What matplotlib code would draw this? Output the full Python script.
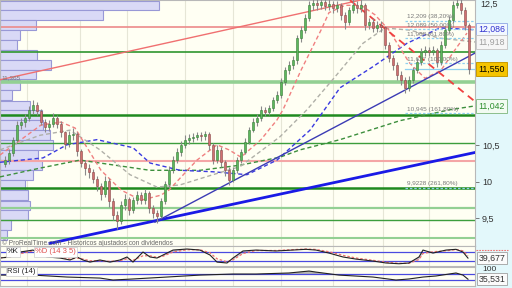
import matplotlib
matplotlib.use("Agg")
import matplotlib.pyplot as plt
import matplotlib.transforms as mtransforms
import numpy as np

plt.rcParams['font.family'] = ['Liberation Sans', 'DejaVu Sans']

# daily candles (open = previous close)
first_open = 10.25
close = [10.30, 10.40, 10.58, 10.78, 10.82, 10.87, 10.98, 11.05, 10.97, 10.82,
         10.75, 10.80, 10.88, 10.80, 10.68, 10.52, 10.64, 10.66, 10.42, 10.26,
         10.19, 10.13, 10.04, 9.94, 9.84, 10.02, 9.74, 9.55, 9.46, 9.68,
         9.77, 9.62, 9.75, 9.82, 9.75, 9.85, 9.64, 9.58, 9.53, 9.74,
         9.97, 10.16, 10.30, 10.41, 10.51, 10.58, 10.60, 10.62, 10.64, 10.63,
         10.66, 10.51, 10.30, 10.44, 10.27, 10.16, 10.03, 10.16, 10.30, 10.41,
         10.55, 10.71, 10.82, 10.88, 10.99, 10.96, 11.01, 11.12, 11.19, 11.37,
         11.53, 11.60, 11.67, 11.97, 12.08, 12.25, 12.42, 12.45, 12.42, 12.47,
         12.41, 12.44, 12.38, 12.42, 12.29, 12.19, 12.36, 12.42, 12.38, 12.42,
         12.15, 12.19, 12.11, 12.15, 12.12, 11.88, 11.70, 11.60, 11.47, 11.40,
         11.29, 11.40, 11.53, 11.64, 11.78, 11.81, 11.78, 11.81, 11.64, 11.88,
         12.08, 12.22, 12.42, 12.45, 12.36, 12.15, 11.55]
high = [10.36, 10.45, 10.62, 10.84, 10.88, 10.93, 11.04, 11.12, 11.10, 11.00,
        10.86, 10.85, 10.94, 10.92, 10.84, 10.70, 10.70, 10.74, 10.68, 10.45,
        10.30, 10.25, 10.18, 10.08, 9.98, 10.08, 10.05, 9.78, 9.60, 9.74,
        9.84, 9.80, 9.80, 9.88, 9.86, 9.90, 9.88, 9.68, 9.62, 9.78,
        10.02, 10.22, 10.36, 10.46, 10.56, 10.64, 10.66, 10.67, 10.68, 10.68,
        10.70, 10.68, 10.54, 10.50, 10.48, 10.30, 10.20, 10.20, 10.34, 10.45,
        10.60, 10.76, 10.87, 10.93, 11.04, 11.03, 11.06, 11.17, 11.24, 11.42,
        11.58, 11.66, 11.72, 12.02, 12.14, 12.30, 12.48, 12.52, 12.52, 12.54,
        12.52, 12.50, 12.48, 12.48, 12.45, 12.33, 12.40, 12.50, 12.48, 12.50,
        12.45, 12.25, 12.24, 12.20, 12.20, 12.14, 11.92, 11.74, 11.64, 11.52,
        11.44, 11.45, 11.58, 11.70, 11.83, 11.86, 11.85, 11.86, 11.84, 11.93,
        12.14, 12.28, 12.48, 12.52, 12.50, 12.40, 12.18]
low = [10.20, 10.24, 10.36, 10.55, 10.72, 10.76, 10.83, 10.93, 10.92, 10.78,
       10.68, 10.70, 10.76, 10.74, 10.62, 10.45, 10.48, 10.58, 10.36, 10.20,
       10.10, 10.06, 9.98, 9.88, 9.76, 9.80, 9.66, 9.48, 9.36, 9.42,
       9.62, 9.55, 9.58, 9.70, 9.70, 9.70, 9.58, 9.50, 9.44, 9.50,
       9.70, 9.92, 10.12, 10.26, 10.36, 10.46, 10.52, 10.55, 10.57, 10.56,
       10.58, 10.44, 10.24, 10.26, 10.20, 10.08, 9.96, 10.00, 10.12, 10.26,
       10.38, 10.52, 10.68, 10.77, 10.84, 10.90, 10.92, 10.97, 11.08, 11.15,
       11.33, 11.48, 11.55, 11.62, 11.92, 12.04, 12.20, 12.36, 12.35, 12.37,
       12.35, 12.36, 12.31, 12.33, 12.22, 12.10, 12.15, 12.32, 12.32, 12.33,
       12.08, 12.10, 12.05, 12.06, 12.06, 11.82, 11.64, 11.54, 11.40, 11.33,
       11.22, 11.25, 11.36, 11.49, 11.60, 11.73, 11.72, 11.74, 11.58, 11.60,
       11.84, 12.04, 12.18, 12.38, 12.30, 12.08, 11.48]

# volume by price (left histogram)
vp_price = [12.42, 12.29, 12.15, 12.01, 11.88, 11.74, 11.60, 11.47, 11.33, 11.19,
            11.05, 10.92, 10.78, 10.64, 10.51, 10.37, 10.23, 10.10, 9.96, 9.82,
            9.68, 9.55, 9.41, 9.27]
vp_vol = [159, 103, 36, 20, 17, 37, 51, 36, 20, 12, 30, 42, 43, 50, 53, 38, 42, 33,
          25, 28, 30, 28, 11, 7]

# moving averages
ma_red_x = [-1.25, 4, 9, 14, 17.5, 24, 29, 34, 39, 41, 48, 53, 56, 59, 64, 68, 69.5,
            74, 79, 81, 85, 89, 92.5, 96, 101, 105, 109, 112.5, 115.5]
ma_red = [10.37, 10.58, 10.78, 10.82, 10.74, 10.16, 9.89, 9.75, 9.82, 9.89, 10.30,
          10.51, 10.44, 10.34, 10.58, 10.85, 10.99, 11.53, 12.08, 12.32, 12.42,
          12.42, 12.29, 12.08, 11.64, 11.42, 11.53, 11.81, 12.04]
ma_gray_x = [-1.25, 8.75, 16.25, 23.75, 31.25, 38, 43.75, 52, 58.75, 68.75, 75.5,
             82.5, 89.5, 95, 101.25, 108.75, 117.5]
ma_gray = [10.44, 10.64, 10.71, 10.44, 10.10, 9.93, 9.96, 10.10, 10.21, 10.62,
           10.99, 11.44, 11.90, 12.11, 12.08, 11.97, 11.918]
ma_blue_x = [-1.25, 9.5, 15.5, 23, 32, 36.25, 43.75, 52, 60.5, 68, 76.25, 83.75,
             92, 100.5, 108.75, 117.5]
ma_blue = [10.27, 10.33, 10.51, 10.58, 10.47, 10.26, 10.16, 10.14, 10.10, 10.30,
           10.71, 11.29, 11.58, 11.90, 12.11, 12.086]
ma_green_x = [-1.25, 8.75, 18.75, 28.75, 36.25, 48.75, 58.75, 68.75, 73.75, 83.75,
              91.25, 98.75, 111.25, 117.5]
ma_green = [10.07, 10.19, 10.30, 10.22, 10.16, 10.16, 10.23, 10.34, 10.44, 10.58,
            10.71, 10.84, 10.99, 11.042]

# horizontal support / resistance levels
levels = [12.123, 11.781, 11.370, 10.918, 10.534, 10.288, 9.918, 9.644, 9.479, 9.233]
level_colors = ['#ec8a8a', '#2f962f', '#93d093', '#1f8a1f', '#3c9e3c', '#f4a6a6',
                '#1f8a1f', '#93d093', '#3c9e3c', '#93d093']
level_widths = [1.2, 1.2, 2.6, 1.8, 1.0, 1.5, 1.8, 1.6, 1.0, 1.5]

# trend lines (start, end)
tl_thick_blue = ([11.25, 118], [9.16, 10.41])
tl_thin_blue = ([37.5, 118], [9.45, 11.78])
tl_red = ([-1.25, 88.75], [11.40, 12.49])
tl_red_dash = ([86.25, 118], [12.49, 11.08])

# fibonacci projections
fib_vals = [12.209, 12.089, 11.968, 11.627, 10.945, 9.9228]
fib_text = ['12,209 (38,20%)', '12,089 (50,00%)', '11,968 (61,80%)',
            '11,627 (100,00%)', '10,945 (161,80%)', '9,9228 (261,80%)']
last_price = 11.55

month_x = [5.5, 18.75, 30.5, 45, 57, 69, 82, 94.5, 106]

# stochastic %K / %D
st_x = [-1.25, 1.25, 3.75, 7, 10.5, 13.75, 16.25, 18, 19.5, 21.25, 23.75, 26.25,
        28.75, 30.5, 32, 34.5, 36.25, 38, 39.5, 42, 45.5, 48.75, 51.25, 53, 55.5,
        57, 59.5, 62.75, 67.75, 75.25, 77.75, 81, 84.5, 87.75, 92, 95.25, 98.5,
        101, 103.5, 104.5, 107, 110.25, 112.75, 114.5, 115.75]
st_k = [40, 47, 80, 93, 47, 40, 27, 47, 27, 13, 27, 13, 27, 47, 13, 80, 47, 40, 60,
        93, 100, 93, 60, 13, 7, 40, 87, 93, 87, 98, 93, 73, 47, 33, 20, 7, 2, 7,
        47, 93, 73, 93, 98, 80, 39.677]
st_d = [42, 45, 68, 88, 60, 45, 33, 40, 33, 22, 22, 18, 22, 35, 25, 55, 55, 45, 52,
        80, 95, 95, 75, 35, 15, 28, 70, 90, 90, 100, 97, 82, 58, 40, 25, 12, 5, 5,
        30, 70, 82, 88, 96, 88, 55]

# RSI 14
rsi_x = [-1.25, 7, 15.5, 23.75, 27, 32, 40.5, 48.75, 57, 62.75, 71, 76, 77.75,
         83.5, 92, 97.75, 101, 104.5, 107.75, 112.75, 114.5, 115.75]
rsi = [63, 63, 50, 43, 30, 37, 50, 63, 70, 70, 77, 90, 83, 63, 50, 30, 37, 50, 57,
       77, 63, 35.531]

fig = plt.figure(figsize=(5.12, 2.88), dpi=100)
fig.patch.set_facecolor('#e3f8fb')

ax = fig.add_axes([0, 0.1458, 0.9277, 0.8542])
ax_st = fig.add_axes([0, 0.0764, 0.9277, 0.0694])
ax_rsi = fig.add_axes([0, 0.0069, 0.9277, 0.066])

xl = (-1.25, 117.5)
for a in (ax, ax_st, ax_rsi):
    a.set_facecolor('#fffff3')
    a.set_xlim(*xl)
    a.set_xticks([])
    for s in a.spines.values():
        s.set_color('#b8b8b8')
        s.set_linewidth(0.8)
    for mx in month_x:
        a.axvline(mx, color='#e6e6d6', lw=0.8, zorder=0)

ax.set_ylim(9.123, 12.493)

# volume profile
ax.barh(vp_price, np.array(vp_vol) * 0.25, height=0.132, left=xl[0],
        color='#d9d9f6', edgecolor='#9898d6', lw=0.8, zorder=1)

for lv, c, w in zip(levels, level_colors, level_widths):
    ax.axhline(lv, color=c, lw=w, zorder=2)

ax.plot(ma_green_x, ma_green, color='#3d8f3d', lw=1.0, ls=(0, (3, 2)), zorder=3)
ax.plot(ma_blue_x, ma_blue, color='#3a3ae0', lw=1.0, ls=(0, (3, 2)), zorder=3)
ax.plot(ma_gray_x, ma_gray, color='#b0b0a8', lw=1.0, ls=(0, (3, 2)), zorder=3)
ax.plot(ma_red_x, ma_red, color='#f08080', lw=1.0, ls=(0, (3, 2)), zorder=3)

ax.plot(*tl_thick_blue, color='#1a1ae6', lw=2.0, zorder=4)
ax.plot(*tl_thin_blue, color='#3c3cb4', lw=1.0, zorder=4)
ax.plot(*tl_red, color='#f07070', lw=1.0, zorder=4)
ax.plot(*tl_red_dash, color='#f04040', lw=1.3, ls=(0, (4, 3)), zorder=4)

# candles
c = np.array(close)
o = np.r_[first_open, c[:-1]]
xi = np.arange(len(c))
up = c >= o
ax.vlines(xi, low, high, color='#8a8a8a', lw=0.8, zorder=5)
ax.bar(xi[up], (c - o)[up], bottom=o[up], width=0.7, color='#5cb85c',
       edgecolor='#3a7a3a', lw=0.4, zorder=6)
ax.bar(xi[~up], (o - c)[~up], bottom=c[~up], width=0.7, color='#d07070',
       edgecolor='#8a4a4a', lw=0.4, zorder=6)

# fibonacci lines and labels
for fv, ft in zip(fib_vals, fib_text):
    ax.plot([100, xl[1]], [fv, fv], color='#8fd0f0', lw=0.9, ls=(0, (2, 1.5)), zorder=3)
    ax.text(100.5, fv + 0.02, ft, fontsize=4.6, color='#7a7a7a', va='bottom', zorder=7)
ax.plot([100, xl[1]], [last_price, last_price], color='#8fd0f0', lw=0.9, zorder=3)

ax.text(-0.8, 11.39, '11,365', fontsize=4.6, color='#7a7a7a', va='bottom', zorder=7)
ax.text(-0.8, 9.16, '\u00a9 ProRealTime.com - Historicos ajustados con dividendos',
        fontsize=4.8, color='#666666', va='center', zorder=7)

# right price scale
ax.yaxis.tick_right()
ax.set_yticks([9.5, 10, 10.5])
ax.set_yticklabels(['9,5', '10', '10,5'])
ax.tick_params(axis='y', length=3, width=0.6, color='#666666', labelsize=6.5,
               labelcolor='#333333', pad=2)
trans = mtransforms.blended_transform_factory(ax.transAxes, ax.transData)
ax.text(1.012, 1.0, '12,5', transform=ax.transAxes, fontsize=6.5, color='#333333',
        va='top', ha='left', clip_on=False)
tags = [(12.086, '12,086', '#3030d0', '#f2f8ff', '#9ab0e8'),
        (11.918, '11,918', '#a0a0a0', '#f6f6f6', '#c8c8c8'),
        (11.55, '11,550', '#000000', '#f5c400', '#c89a00'),
        (11.042, '11,042', '#2f8f2f', '#f2fbf2', '#8cbf8c')]
for tv, tt, tc, fc, ec in tags:
    ax.text(1.007, tv, tt, transform=trans, fontsize=6.3, color=tc, va='center',
            ha='left', clip_on=False,
            bbox=dict(boxstyle='square,pad=0.25', fc=fc, ec=ec, lw=0.7))

# stochastic panel
ax_st.set_ylim(-13, 120)
ax_st.set_yticks([])
ax_st.axhline(80, color='#4a4ae0', lw=0.9)
ax_st.axhline(20, color='#4a4ae0', lw=0.9)
k = np.array(st_k, float)
d = np.array(st_d, float)
ax_st.fill_between(st_x, k, d, where=k > d, color='#a8a8c8', alpha=0.6, lw=0)
ax_st.plot(st_x, d, color='#f07070', lw=0.9, ls=(0, (2, 1.5)))
ax_st.plot(st_x, k, color='#222222', lw=0.8)
ax_st.text(0.5, 104, '%K', fontsize=5.5, color='#222222', va='top',
           bbox=dict(boxstyle='square,pad=0.15', fc='white', ec='#cccccc', lw=0.5))
ax_st.text(7.5, 104, '%D (14 3 5)', fontsize=5.5, color='#e05050', va='top',
           bbox=dict(boxstyle='square,pad=0.15', fc='white', ec='#cccccc', lw=0.5))
tr_st = mtransforms.blended_transform_factory(ax_st.transAxes, ax_st.transData)
ax_st.plot([1.003, 1.07], [96, 96], transform=tr_st, color='#f07070', lw=0.8,
           ls=(0, (1.5, 1)), clip_on=False)
ax_st.text(1.007, 39.677, '39,677', transform=tr_st, fontsize=6.3, color='#333333',
           va='center', clip_on=False,
           bbox=dict(boxstyle='square,pad=0.2', fc='#fbfbfb', ec='#a0a0a0', lw=0.6))

# RSI panel
ax_rsi.set_ylim(-10, 117)
ax_rsi.set_yticks([])
ax_rsi.axhline(70, color='#4a4ae0', lw=0.9)
ax_rsi.axhline(30, color='#4a4ae0', lw=0.9)
r = np.array(rsi, float)
ax_rsi.fill_between(rsi_x, r, 70, where=r > 70, interpolate=True, color='#9a9a9a',
                    alpha=0.7, lw=0)
ax_rsi.plot(rsi_x, r, color='#222222', lw=0.8)
ax_rsi.text(0.5, 112, 'RSI (14)', fontsize=5.5, color='#222222', va='top',
            bbox=dict(boxstyle='square,pad=0.15', fc='white', ec='#cccccc', lw=0.5))
tr_rsi = mtransforms.blended_transform_factory(ax_rsi.transAxes, ax_rsi.transData)
ax_rsi.text(1.015, 100, '100', transform=tr_rsi, fontsize=6, color='#333333',
            va='center', clip_on=False)
ax_rsi.text(1.007, 35.531, '35,531', transform=tr_rsi, fontsize=6.3, color='#333333',
            va='center', clip_on=False,
            bbox=dict(boxstyle='square,pad=0.2', fc='#fbfbfb', ec='#a0a0a0', lw=0.6))

fig.savefig('out.png', dpi=100, facecolor=fig.get_facecolor())
